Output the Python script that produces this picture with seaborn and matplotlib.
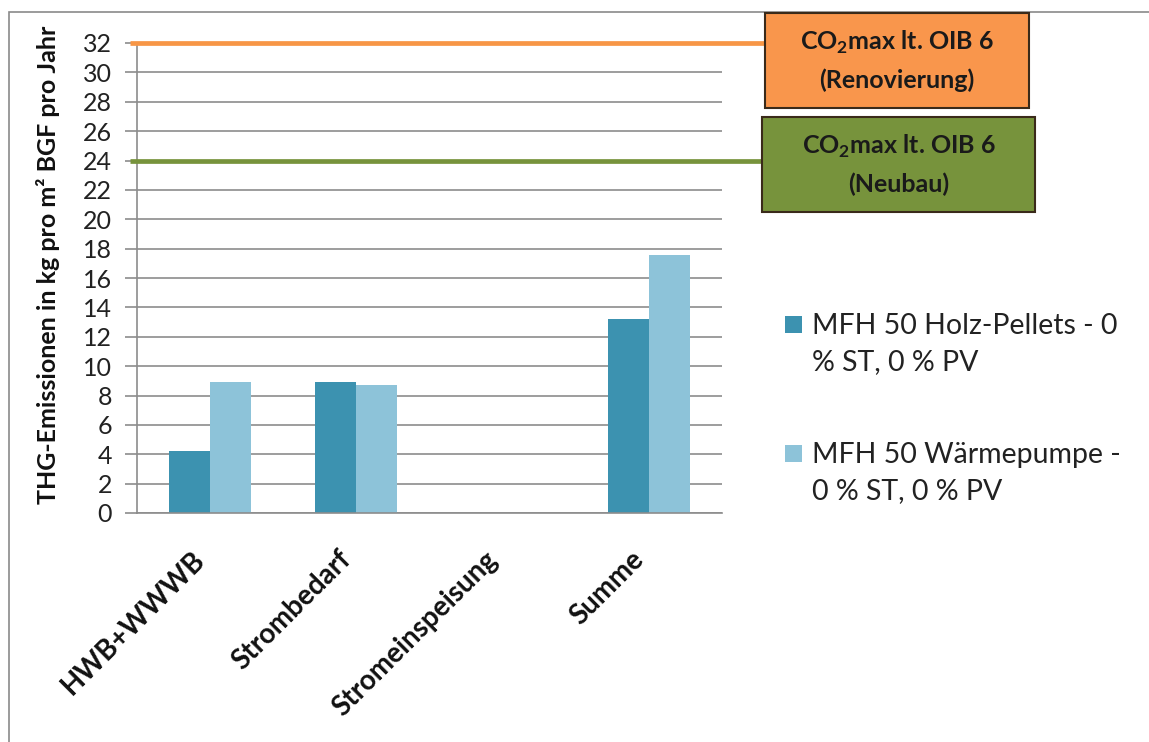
import matplotlib
matplotlib.use("Agg")
import matplotlib.pyplot as plt
import matplotlib.transforms as mtransforms
from matplotlib.patches import Rectangle
import numpy as np
import pandas as pd
import seaborn as sns

# --- data -------------------------------------------------------------
categories = ["HWB+WWWB", "Strombedarf", "Stromeinspeisung", "Summe"]
series_names = ["MFH 50 Holz-Pellets - 0\n% ST, 0 % PV",
                "MFH 50 Wärmepumpe -\n0 % ST, 0 % PV"]
pellets = [4.2, 8.9, 0.0, 13.2]
waermepumpe = [8.9, 8.7, 0.0, 17.6]
yticks = list(range(0, 33, 2))

limit_labels = ["CO$_\\mathbf{2}$max lt. OIB 6\n(Renovierung)",
                "CO$_\\mathbf{2}$max lt. OIB 6\n(Neubau)"]
limit_values = [32, 24]

df = pd.DataFrame({
    "Kategorie": categories * 2,
    "Variante": [series_names[0]] * len(categories) + [series_names[1]] * len(categories),
    "THG": pellets + waermepumpe,
})

# --- style ------------------------------------------------------------
sns.set_theme(style="white")
plt.rcParams["font.family"] = ["Lato", "DejaVu Sans"]
plt.rcParams["mathtext.fontset"] = "custom"
plt.rcParams["mathtext.rm"] = "Lato"
plt.rcParams["mathtext.bf"] = "Lato:bold"

bar_colors = ["#3C92B0", "#8DC3D9"]
limit_colors = ["#F79646", "#77933C"]
box_colors = ["#F9964C", "#77933C"]
grid_color = "#8C8C8C"

W, H = 1149, 742
fig = plt.figure(figsize=(W / 100, H / 100), dpi=100)
fig.patch.set_facecolor("white")

ax = fig.add_axes([137 / W, 1 - 513 / H, (722 - 137) / W, (513 - 43) / H])

sns.barplot(data=df, x="Kategorie", y="THG", hue="Variante",
            palette=bar_colors, width=0.56, gap=0, saturation=1,
            linewidth=0, ax=ax, legend=False)

ax.set_xlim(-0.5, len(categories) - 0.5)
ax.set_ylim(0, 32)
ax.set_yticks(yticks)
ax.set_yticklabels([str(t) for t in yticks], fontsize=18, color="#222222")
ax.yaxis.grid(True, color=grid_color, linewidth=1.2)
ax.set_axisbelow(True)
ax.tick_params(axis="y", length=9, width=1.2, color=grid_color, pad=9, left=True)
ax.tick_params(axis="x", length=0, pad=24)

for side in ["top", "right"]:
    ax.spines[side].set_visible(False)
for side in ["left", "bottom"]:
    ax.spines[side].set_color(grid_color)
    ax.spines[side].set_linewidth(1.2)

ax.set_xlabel("")
ax.set_ylabel("THG-Emissionen in kg pro m² BGF pro Jahr", fontsize=18,
              fontweight="bold", color="#111111")
ax.yaxis.set_label_coords((60 - 137) / (722 - 137), (513 - 265) / (513 - 43))

# rotated category labels, right-top corner hanging below each group
ax.set_xticks(range(len(categories)))
ax.set_xticklabels(categories, fontsize=20, fontweight="bold", color="#111111")
for lab in ax.get_xticklabels():
    lab.set_rotation(45)
    lab.set_rotation_mode("default")
    lab.set_ha("right")
    lab.set_va("top")

# limit lines running out to their text boxes
blend = mtransforms.blended_transform_factory(fig.transFigure, ax.transData)
line_ends = [765, 762]
for val, col, xe in zip(limit_values, limit_colors, line_ends):
    ax.plot([130 / W, xe / W], [val, val], color=col, linewidth=3.4,
            transform=blend, clip_on=False, zorder=5, solid_capstyle="butt")

boxes = [(765, 13, 1029, 108), (762, 117, 1035, 212)]
for (x0, y0, x1, y1), fc, txt in zip(boxes, box_colors, limit_labels):
    fig.add_artist(Rectangle((x0 / W, 1 - y1 / H), (x1 - x0) / W, (y1 - y0) / H,
                             transform=fig.transFigure, facecolor=fc,
                             edgecolor="#3A2A1A", linewidth=1.5, zorder=6))
    fig.text((x0 + x1) / 2 / W, 1 - (y0 + y1) / 2 / H, txt, ha="center", va="center",
             fontsize=18, fontweight="bold", color="#1A1A1A", linespacing=1.62,
             zorder=7)

# legend: colour square next to the first line of each two-line entry
legend_rows = [(316, 344), (445, 473)]
for (sq_top, txt_mid), col, name in zip(legend_rows, bar_colors, series_names):
    fig.add_artist(Rectangle((785 / W, 1 - (sq_top + 17) / H), 17 / W, 17 / H,
                             transform=fig.transFigure, facecolor=col,
                             edgecolor="none"))
    fig.text(812 / W, 1 - txt_mid / H, name, ha="left", va="center",
             fontsize=20.5, color="#222222", linespacing=1.5)

# outer chart frame
fig.add_artist(Rectangle((9 / W, -0.05), 1.1, 1 - 12 / H + 0.05,
                         transform=fig.transFigure, fill=False,
                         edgecolor="#8A8A8A", linewidth=1.2, zorder=0))

fig.savefig("out.png", dpi=100, facecolor="white")
